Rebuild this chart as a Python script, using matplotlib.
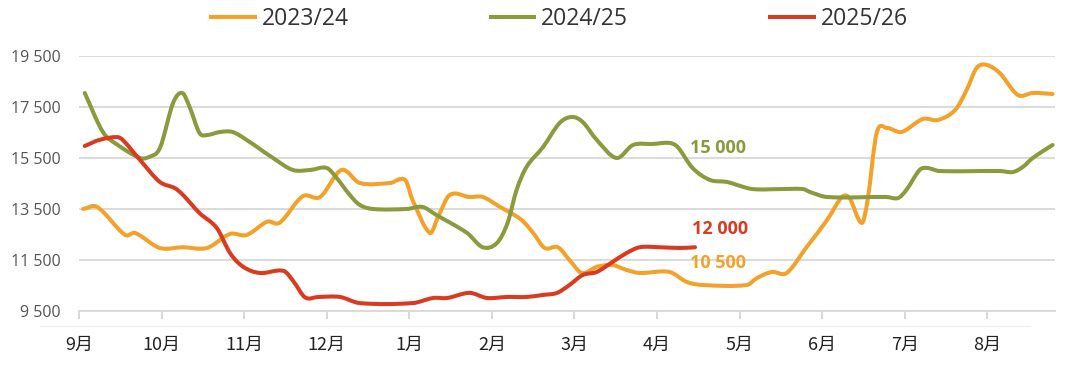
import matplotlib
matplotlib.use("Agg")
import matplotlib.pyplot as plt
import numpy as np
from matplotlib.path import Path
from matplotlib.patches import PathPatch
from matplotlib.lines import Line2D
from matplotlib.transforms import ScaledTranslation

# --- data (x = months since start of September) ---
months = ['9月', '10月', '11月', '12月', '1月', '2月', '3月', '4月', '5月', '6月', '7月', '8月']
yticks = [9500, 11500, 13500, 15500, 17500, 19500]

x_2324 = [0.05, 0.22, 0.56, 0.68, 0.98, 1.26, 1.55, 1.83, 2.03, 2.28, 2.43, 2.71, 2.92, 3.18,
          3.40, 3.77, 3.95, 4.04, 4.25, 4.35, 4.49, 4.73, 4.89, 5.10, 5.36, 5.50, 5.64, 5.80,
          5.94, 6.09, 6.27, 6.46, 6.63, 6.79, 7.15, 7.36, 7.55, 8.09, 8.21, 8.39, 8.57, 8.81,
          9.06, 9.24, 9.33, 9.48, 9.55, 9.66, 9.78, 9.96, 10.22, 10.40, 10.61, 10.75, 10.87,
          10.99, 11.15, 11.37, 11.55, 11.79]
y_2324 = [13500, 13580, 12480, 12560, 11970, 12000, 11970, 12520, 12480, 13000, 12960, 14000,
          13970, 15030, 14520, 14520, 14640, 13850, 12560, 13200, 14050, 13970, 13970, 13580,
          13070, 12560, 11970, 12000, 11500, 10990, 11230, 11300, 11110, 10990, 11030, 10640,
          10520, 10520, 10790, 11030, 10990, 12000, 13070, 13970, 13930, 12950, 13850, 16480,
          16680, 16520, 17030, 16990, 17380, 18170, 19030, 19150, 18830, 17970, 18050, 18010]

x_2425 = [0.07, 0.29, 0.47, 0.74, 0.84, 0.98, 1.14, 1.25, 1.34, 1.46, 1.55, 1.71, 1.86, 2.03,
          2.35, 2.59, 2.80, 3.00, 3.12, 3.28, 3.40, 3.56, 3.97, 4.16, 4.33, 4.70, 4.89, 5.06,
          5.19, 5.30, 5.42, 5.62, 5.82, 5.97, 6.10, 6.27, 6.51, 6.71, 6.95, 7.15, 7.25, 7.43,
          7.64, 7.85, 7.97, 8.16, 8.49, 8.77, 8.85, 9.06, 9.78, 9.92, 10.02, 10.18, 10.27,
          10.42, 11.15, 11.31, 11.43, 11.55, 11.79]
y_2425 = [18050, 16520, 16010, 15500, 15530, 15890, 17660, 18050, 17500, 16480, 16400, 16520,
          16520, 16210, 15500, 15030, 15030, 15110, 14720, 14050, 13660, 13500, 13500, 13580,
          13260, 12560, 12000, 12160, 12950, 14250, 15150, 15930, 16870, 17110, 16910, 16210,
          15500, 16010, 16050, 16090, 15930, 15110, 14640, 14560, 14440, 14280, 14280, 14280,
          14170, 13970, 13970, 13930, 14250, 15030, 15110, 14990, 14990, 14950, 15150, 15500,
          16010]

x_2526 = [0.07, 0.25, 0.46, 0.53, 0.74, 0.98, 1.16, 1.26, 1.46, 1.67, 1.83, 1.99, 2.19, 2.48,
          2.60, 2.74, 2.90, 3.16, 3.40, 4.04, 4.29, 4.46, 4.73, 4.94, 5.18, 5.42, 5.62, 5.79,
          5.94, 6.10, 6.27, 6.46, 6.63, 6.79, 7.03, 7.28, 7.46]
y_2526 = [15970, 16210, 16320, 16210, 15420, 14560, 14320, 14050, 13340, 12750, 11770, 11230,
          10990, 11070, 10650, 10030, 10050, 10050, 9810, 9810, 10010, 10010, 10210, 10010,
          10050, 10050, 10130, 10210, 10520, 10910, 11030, 11420, 11770, 12000, 12000, 11970,
          12000]

c_2324 = '#F4A12A'
c_2425 = '#8A9A3C'
c_2526 = '#DA3A1F'


def smooth_path(x, y):
    # cubic Hermite segments drawn as bezier curves (like a smoothed Excel line)
    x = np.asarray(x, float)
    y = np.asarray(y, float)
    n = len(x)
    m = np.zeros(n)
    m[0] = (y[1] - y[0]) / (x[1] - x[0])
    m[-1] = (y[-1] - y[-2]) / (x[-1] - x[-2])
    m[1:-1] = (y[2:] - y[:-2]) / (x[2:] - x[:-2])
    verts = [(x[0], y[0])]
    codes = [Path.MOVETO]
    for i in range(n - 1):
        dx = (x[i + 1] - x[i]) / 3
        verts += [(x[i] + dx, y[i] + m[i] * dx),
                  (x[i + 1] - dx, y[i + 1] - m[i + 1] * dx),
                  (x[i + 1], y[i + 1])]
        codes += [Path.CURVE4] * 3
    return Path(verts, codes)


fig = plt.figure(figsize=(10.8, 3.75), dpi=100)
ax = fig.add_axes([0.0731, 0.1707, 0.9038, 0.68])

for xs, ys, col in [(x_2324, y_2324, c_2324), (x_2425, y_2425, c_2425), (x_2526, y_2526, c_2526)]:
    ax.add_patch(PathPatch(smooth_path(xs, ys), facecolor='none', edgecolor=col,
                           lw=2.9, capstyle='round', joinstyle='round', zorder=3))

ax.set_xlim(0, 11.82)
ax.set_ylim(9500, 19500)

ax.set_yticks(yticks)
ax.set_yticklabels([f"{v:,}".replace(',', ' ') for v in yticks],
                   fontfamily='Open Sans', fontsize=11.5, color='#555555')
ax.set_xticks(range(len(months)))
ax.set_xticklabels(months, fontfamily=['Noto Sans CJK SC', 'DejaVu Sans'],
                   fontsize=13, fontweight='medium', color='#222222')
# month labels sit a little to the right of their ticks
for lbl in ax.get_xticklabels():
    lbl.set_transform(lbl.get_transform() + ScaledTranslation(0.04, 0, fig.dpi_scale_trans))
ax.tick_params(axis='y', length=0, pad=13)
ax.tick_params(axis='x', length=6, width=1.3, color='#D5D5D5', pad=12)

ax.yaxis.grid(True, color='#DADADA', lw=1.4, zorder=0)
ax.set_axisbelow(True)
for s in ['top', 'right', 'left']:
    ax.spines[s].set_visible(False)
ax.spines['bottom'].set_color('#DADADA')
ax.spines['bottom'].set_linewidth(1.4)

# end-value labels
ax.text(7.40, 15890, '15 000', color=c_2425, fontsize=13, fontweight='bold',
        fontfamily='Open Sans', ha='left', va='center')
ax.text(7.42, 12720, '12 000', color=c_2526, fontsize=13, fontweight='bold',
        fontfamily='Open Sans', ha='left', va='center')
ax.text(7.40, 11380, '10 500', color=c_2324, fontsize=13, fontweight='bold',
        fontfamily='Open Sans', ha='left', va='center')

# faint rule under the axis labels
fig.add_artist(Line2D([40 / 1080, 1030 / 1080], [1 - 326 / 375] * 2, color='#F0F0F0', lw=1))

handles = [Line2D([], [], color=c, lw=2.9) for c in (c_2324, c_2425, c_2526)]
fig.legend(handles, ['2023/24', '2024/25', '2025/26'], loc='center',
           bbox_to_anchor=(0.518, 0.949), ncol=3, frameon=False,
           prop={'family': 'Open Sans', 'size': 16.5}, labelcolor='#333333',
           handlelength=1.9, handletextpad=0.3, columnspacing=6.2)

fig.savefig('out.png', dpi=100)
